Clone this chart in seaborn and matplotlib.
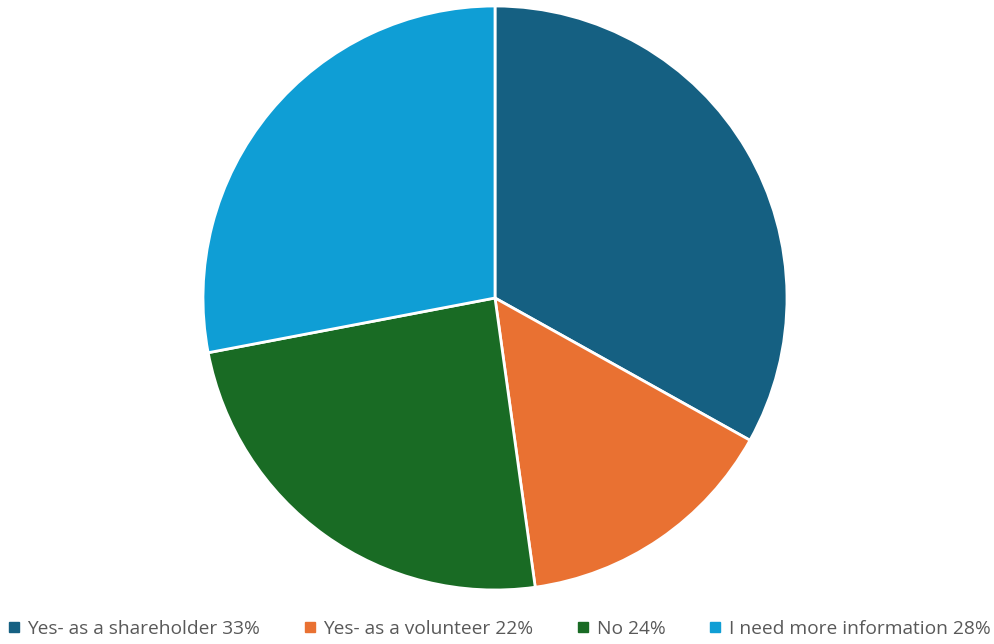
import matplotlib
matplotlib.use("Agg")
import matplotlib.pyplot as plt
from matplotlib.lines import Line2D
import seaborn as sns

categories = [
    "Yes- as a shareholder 33%",
    "Yes- as a volunteer 22%",
    "No 24%",
    "I need more information 28%",
]
shares = [33.1, 14.7, 24.2, 28.0]
colors = ["#156082", "#E97132", "#196B24", "#0F9ED5"]

sns.set_theme(style="white")
plt.rcParams["font.family"] = ["Open Sans", "DejaVu Sans"]

W, H = 995, 644
fig = plt.figure(figsize=(W / 100, H / 100), dpi=100)
fig.patch.set_facecolor("white")

cx, cy, r = 495, 298, 292
ax = fig.add_axes([(cx - r) / W, (H - cy - r) / H, 2 * r / W, 2 * r / H])
ax.pie(
    shares,
    colors=colors,
    startangle=90,
    counterclock=False,
    radius=1.0,
    wedgeprops=dict(edgecolor="white", linewidth=2),
)
ax.set_xlim(-1.0, 1.0)
ax.set_ylim(-1.0, 1.0)
ax.set_aspect("equal")
ax.axis("off")

handles = [
    Line2D([0], [0], marker="s", linestyle="none", markersize=6.5,
           markerfacecolor=c, markeredgecolor=c)
    for c in colors
]
fig.legend(
    handles, categories,
    loc="center", bbox_to_anchor=(0.5, (H - 629) / H),
    ncol=4, frameon=False, fontsize=13.8,
    labelcolor="#595959", handletextpad=0.2, columnspacing=2.1,
    handlelength=1.0,
)

fig.savefig("out.png", dpi=100, facecolor="white")
